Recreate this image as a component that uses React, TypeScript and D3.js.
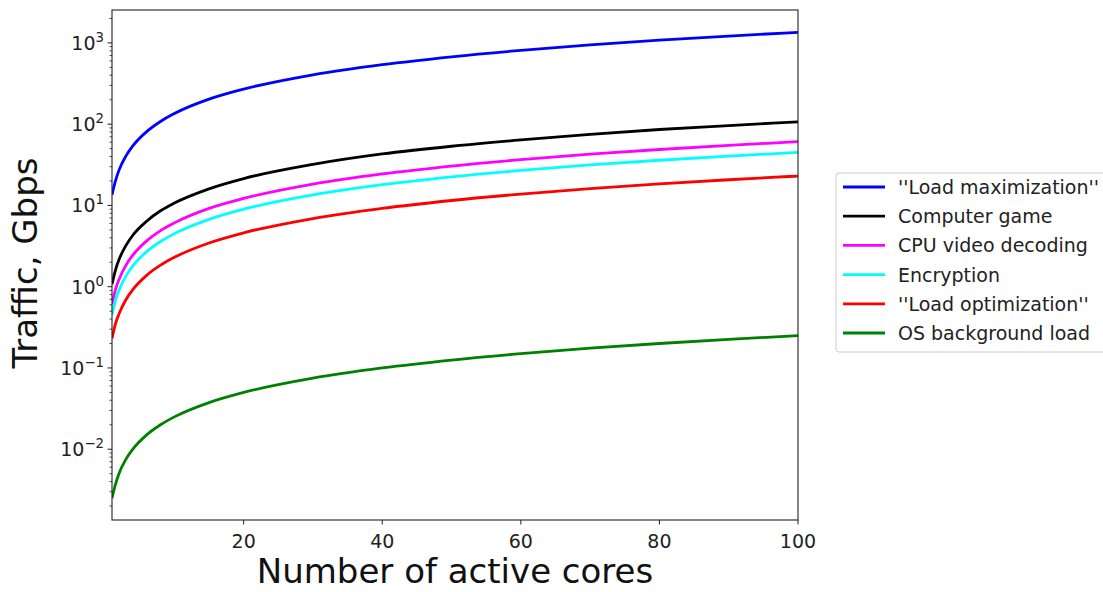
import React from 'react';
import * as d3 from 'd3';

// cores on the x axis (sample points)
const cores = [1, 1.5, 2, 3, 4, 6, 8, 10, 15, 20, 30, 40, 50, 60, 70, 80, 90, 100];

// traffic in Gbps
const loadMax = [13.5, 20, 27, 40.5, 54, 81, 108, 135, 203, 270, 405, 540, 675, 810, 945, 1080, 1215, 1350];
const game = [1.07, 1.6, 2.14, 3.2, 4.3, 6.4, 8.6, 10.7, 16, 21.4, 32, 43, 53.5, 64, 75, 86, 96, 107];
const videoDecoding = [0.61, 0.92, 1.22, 1.83, 2.44, 3.66, 4.9, 6.1, 9.2, 12.2, 18.3, 24.4, 30.5, 36.6, 42.7, 48.8, 54.9, 61];
const encryption = [0.45, 0.68, 0.9, 1.35, 1.8, 2.7, 3.6, 4.5, 6.75, 9, 13.5, 18, 22.5, 27, 31.5, 36, 40.5, 45];
const loadOpt = [0.23, 0.35, 0.46, 0.69, 0.92, 1.38, 1.84, 2.3, 3.45, 4.6, 6.9, 9.2, 11.5, 13.8, 16.1, 18.4, 20.7, 23];
const osBackground = [0.0025, 0.0037, 0.005, 0.0075, 0.01, 0.015, 0.02, 0.025, 0.0375, 0.05, 0.075, 0.1, 0.125, 0.15, 0.175, 0.2, 0.225, 0.25];

const seriesNames = ["''Load maximization''", 'Computer game', 'CPU video decoding', 'Encryption', "''Load optimization''", 'OS background load'];
const seriesValues = [loadMax, game, videoDecoding, encryption, loadOpt, osBackground];
const seriesColors = ['#0000ff', '#000000', '#ff00ff', '#00ffff', '#ff0000', '#008000'];

const xTicks = [20, 40, 60, 80, 100];
const yExponents = [-2, -1, 0, 1, 2, 3];

const W = 1103;
const H = 592;
const plot = { left: 112, right: 798, top: 10, bottom: 520 };
const font = 'DejaVu Sans, sans-serif';
const small = 19;
const big = 34;

const App = () => {
  const x = d3.scaleLinear().domain([1, 100]).range([plot.left, plot.right]);
  const y = d3.scaleLog().domain([Math.pow(10, -2.871), Math.pow(10, 3.405)]).range([plot.bottom, plot.top]);

  const line = d3.line<number>()
    .x((_, i) => x(cores[i]))
    .y(d => y(d))
    .curve(d3.curveMonotoneX);

  // minor ticks on the log axis: 2..9 of each decade inside the domain
  const [yMin, yMax] = y.domain();
  const minor: number[] = [];
  for (let e = -3; e <= 3; e++) {
    for (let m = 2; m <= 9; m++) {
      const v = m * Math.pow(10, e);
      if (v >= yMin && v <= yMax) minor.push(v);
    }
  }

  const legendX = 836;
  const legendY = 173;
  const rowH = 29.2;

  return (
    <div style={{ position: 'absolute', left: 0, top: 0 }}>
      <svg width={W} height={H} style={{ display: 'block', background: '#fff' }}>
        <defs>
          <clipPath id="plotClip">
            <rect x={plot.left} y={plot.top} width={plot.right - plot.left} height={plot.bottom - plot.top} />
          </clipPath>
        </defs>

        <g clipPath="url(#plotClip)">
          {seriesValues.map((vals, i) => (
            <path key={i} d={line(vals) || ''} fill="none" stroke={seriesColors[i]} strokeWidth={2.8} strokeLinejoin="round" />
          ))}
        </g>

        <rect x={plot.left} y={plot.top} width={plot.right - plot.left} height={plot.bottom - plot.top}
          fill="none" stroke="#222" strokeWidth={1.1} />

        {/* x axis */}
        {xTicks.map(t => (
          <g key={t}>
            <line x1={x(t)} x2={x(t)} y1={plot.bottom} y2={plot.bottom + 4.5} stroke="#222" strokeWidth={1} />
            <text x={x(t)} y={548} textAnchor="middle" fontFamily={font} fontSize={small} fill="#222">{t}</text>
          </g>
        ))}

        {/* y axis */}
        {minor.map(v => (
          <line key={v} x1={plot.left - 2.5} x2={plot.left} y1={y(v)} y2={y(v)} stroke="#222" strokeWidth={0.8} />
        ))}
        {yExponents.map(e => (
          <g key={e}>
            <line x1={plot.left - 4.5} x2={plot.left} y1={y(Math.pow(10, e))} y2={y(Math.pow(10, e))} stroke="#222" strokeWidth={1} />
            <text x={plot.left - 8} y={y(Math.pow(10, e)) + 7} textAnchor="end" fontFamily={font} fontSize={small} fill="#222">
              10<tspan dy={-8} fontSize={13.3}>{e < 0 ? '\u2212' + Math.abs(e) : e}</tspan>
            </text>
          </g>
        ))}

        <text transform="translate(37,263) rotate(-90)" textAnchor="middle" fontFamily={font} fontSize={big} fill="#111">Traffic, Gbps</text>
        <text x={(plot.left + plot.right) / 2} y={583} textAnchor="middle" fontFamily={font} fontSize={big} fill="#111">Number of active cores</text>

        {/* legend */}
        <rect x={legendX} y={legendY} width={290} height={179} rx={3} fill="#fff" stroke="#ccc" strokeWidth={1} />
        {seriesNames.map((name, i) => {
          const cy = legendY + 14 + i * rowH;
          return (
            <g key={name}>
              <line x1={843} x2={885} y1={cy} y2={cy} stroke={seriesColors[i]} strokeWidth={2.8} />
              <text x={898} y={cy + 7} fontFamily={font} fontSize={small} fill="#222">{name}</text>
            </g>
          );
        })}
      </svg>
    </div>
  );
};

export default App;
